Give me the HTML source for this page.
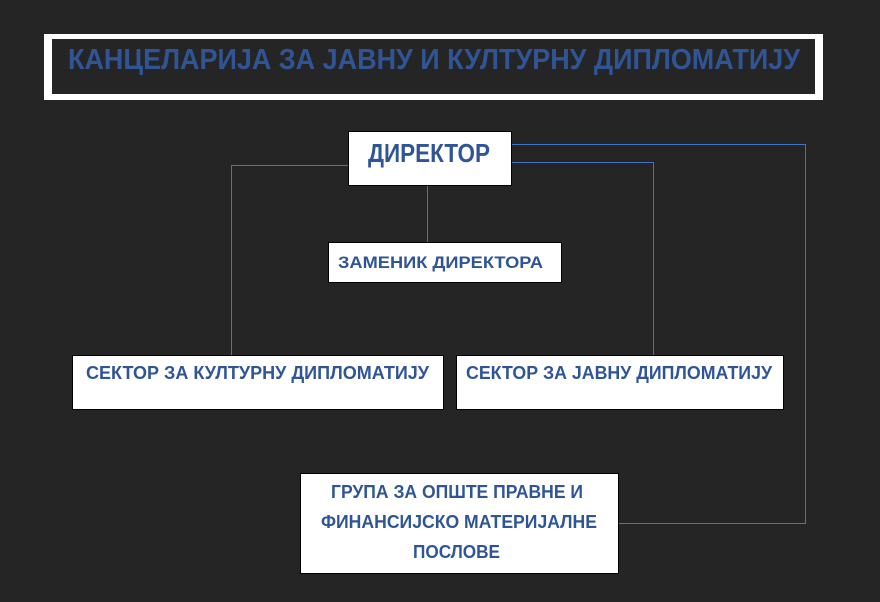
<!DOCTYPE html>
<html><head><meta charset="utf-8"><style>
html,body{margin:0;padding:0;background:#252525;}
svg{display:block;}
text{font-family:"Liberation Sans",sans-serif;font-weight:bold;fill:#2f5597;}
</style></head><body>
<svg width="880" height="602" viewBox="0 0 880 602" xmlns="http://www.w3.org/2000/svg">
<rect width="880" height="602" fill="#252525"/>
<rect x="44" y="34" width="779" height="66" fill="#fff"/>
<rect x="52" y="39" width="763" height="55" fill="#252525"/>
<text x="68" y="69" font-size="29" textLength="732" lengthAdjust="spacingAndGlyphs">КАНЦЕЛАРИЈА ЗА ЈАВНУ И КУЛТУРНУ ДИПЛОМАТИЈУ</text>
<g stroke="#4472c4" stroke-width="1" fill="none" shape-rendering="crispEdges">
<polyline points="348,165.5 231.5,165.5 231.5,355"/>
<line x1="427.5" y1="185" x2="427.5" y2="242"/>
<polyline points="511,162.5 653.5,162.5 653.5,355"/>
<polyline points="511,144.5 805.5,144.5 805.5,523.5 618,523.5"/>
</g>
<g fill="#fff" stroke="#000" stroke-width="1">
<rect x="348.5" y="131.5" width="163" height="54"/>
<rect x="328.5" y="242.5" width="233" height="40"/>
<rect x="72.5" y="355.5" width="371" height="54"/>
<rect x="456.5" y="355.5" width="327" height="54"/>
<rect x="300.5" y="473.5" width="318" height="100"/>
</g>
<text x="368" y="162" font-size="26" textLength="122" lengthAdjust="spacingAndGlyphs">ДИРЕКТОР</text>
<text x="338" y="268" font-size="17" textLength="205" lengthAdjust="spacingAndGlyphs">ЗАМЕНИК ДИРЕКТОРА</text>
<text x="86" y="379" font-size="18" textLength="343" lengthAdjust="spacingAndGlyphs">СЕКТОР ЗА КУЛТУРНУ ДИПЛОМАТИЈУ</text>
<text x="466" y="379" font-size="18" textLength="306" lengthAdjust="spacingAndGlyphs">СЕКТОР ЗА ЈАВНУ ДИПЛОМАТИЈУ</text>
<text x="331" y="498" font-size="18" textLength="252" lengthAdjust="spacingAndGlyphs">ГРУПА ЗА ОПШТЕ ПРАВНЕ И</text>
<text x="321" y="528" font-size="18" textLength="276" lengthAdjust="spacingAndGlyphs">ФИНАНСИЈСКО МАТЕРИЈАЛНЕ</text>
<text x="413" y="558" font-size="18" textLength="87" lengthAdjust="spacingAndGlyphs">ПОСЛОВЕ</text>
</svg>
</body></html>
